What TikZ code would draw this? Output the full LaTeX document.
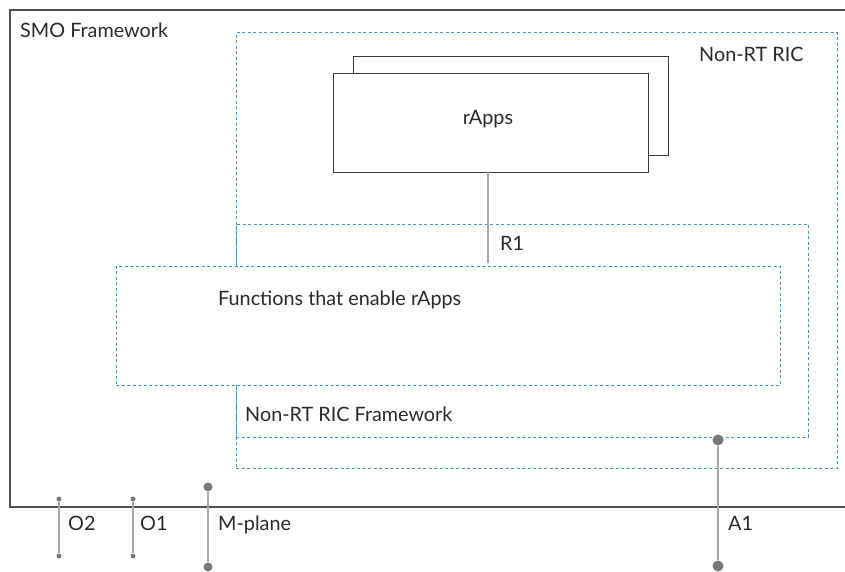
\documentclass[tikz,border=0pt]{standalone}
\usepackage{fontspec}
\setmainfont{Lato}
\definecolor{ricblue}{HTML}{2F97EE}
\definecolor{framegray}{HTML}{505050}
\definecolor{boxgray}{HTML}{3A3A3A}
\definecolor{linegray}{HTML}{A8A8A8}
\definecolor{dotgray}{HTML}{787878}
\definecolor{txt}{HTML}{2A2A2A}
\begin{document}
\begin{tikzpicture}[x=1pt,y=-1pt,
  ricbox/.style={draw=ricblue, dash pattern=on 3pt off 2.5pt, line width=1pt,
    inner sep=0pt, outer sep=0pt, anchor=north west},
  appbox/.style={draw=boxgray, fill=white, line width=0.9pt,
    inner sep=0pt, outer sep=0pt, anchor=north west},
  lblfont/.style={font=\fontsize{19.8}{23}\selectfont, text=txt},
  lbl/.style={lblfont, inner sep=0pt, anchor=base west},
  iface/.style={draw=linegray, line width=1.5pt},
  bigdot/.style={circle, fill=dotgray, inner sep=0pt, minimum size=9pt},
  smalldot/.style={circle, fill=dotgray, inner sep=0pt, minimum size=5pt}]
\useasboundingbox (0,0) rectangle (845,572);

% SMO framework frame, open to the right
\coordinate (smoTR) at (846,10);
\coordinate (smoTL) at (10,10);
\coordinate (smoBL) at (10,507);
\coordinate (smoBR) at (846,507);
\draw[framegray, line width=1.2pt] (smoTR) -- (smoTL) -- (smoBL) -- (smoBR);
\node[lbl] (smolbl) at (20,38) {SMO Framework};

% Non-RT RIC and its framework
\node[ricbox, minimum width=601, minimum height=435] (ric) at (236,33) {};
\node[lbl] (riclbl) at (699,62) {Non-RT RIC};
\node[ricbox, minimum width=572, minimum height=213] (ricfw) at (236,224) {};
\node[lbl] (ricfwlbl) at (245,421) {Non-RT RIC Framework};
\node[ricbox, fill=white, minimum width=664, minimum height=119] (funcs) at (116,266) {};
\node[lbl] (funcslbl) at (218,305) {Functions that enable rApps};

% rApps stack
\node[appbox, minimum width=315, minimum height=99] (rappsback) at (353,56) {};
\node[appbox, minimum width=315, minimum height=99] (rapps) at (333,73) {};
\node[lbl, anchor=base] (rappslbl) at (488,125) {rApps};

% R1 interface
\coordinate (r1end) at (488,263);
\draw[draw=linegray, line width=1.2pt] (rapps.south -| r1end) -- (r1end);
\node[lbl] (r1lbl) at (500,250) {R1};

% southbound and A1 interfaces
\node[smalldot] (o2top) at (59,499) {};
\node[smalldot] (o2bot) at (59,556) {};
\draw[iface] (o2top) -- (o2bot);
\node[lbl] (o2lbl) at (68,530) {O2};

\node[smalldot] (o1top) at (133,499) {};
\node[smalldot] (o1bot) at (133,556) {};
\draw[iface] (o1top) -- (o1bot);
\node[lbl] (o1lbl) at (140,530) {O1};

\node[bigdot] (mtop) at (208,487) {};
\node[bigdot] (mbot) at (208,567) {};
\draw[iface] (mtop) -- (mbot);
\node[lbl] (mlbl) at (218,530) {M-plane};

\node[bigdot, minimum size=11pt] (a1top) at (718,440) {};
\node[bigdot, minimum size=11pt] (a1bot) at (718,566) {};
\draw[iface] (a1top) -- (a1bot);
\node[lbl] (a1lbl) at (728,530) {A1};
\end{tikzpicture}
\end{document}
